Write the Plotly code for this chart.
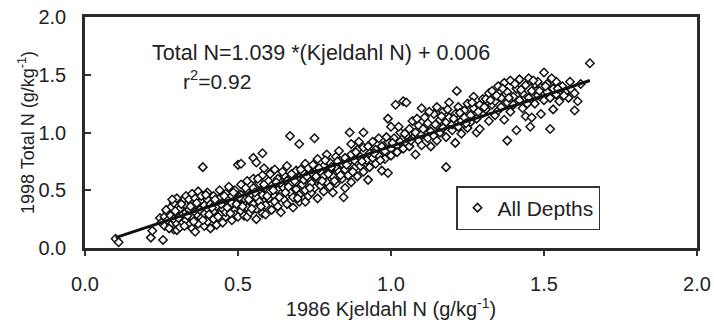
import plotly.graph_objects as go

# 1986 Kjeldahl N (g/kg-1) and 1998 Total N (g/kg-1)
kjeldahl_1986 = [
    0.10, 0.11, 0.215, 0.22, 0.255, 0.245, 0.385,
    0.25, 0.26, 0.26, 0.27, 0.27, 0.28, 0.28, 0.28, 0.29, 0.29, 0.29, 0.30, 0.30, 0.30, 0.30,
    0.31, 0.31, 0.31, 0.32, 0.32, 0.32, 0.33, 0.33, 0.33, 0.33, 0.34, 0.34, 0.34, 0.35, 0.35, 0.35, 0.35,
    0.36, 0.36, 0.36, 0.36, 0.37, 0.37, 0.37, 0.37, 0.38, 0.38, 0.38, 0.38, 0.39, 0.39, 0.39, 0.40, 0.40, 0.40, 0.40,
    0.41, 0.41, 0.41, 0.42, 0.42, 0.42, 0.43, 0.43, 0.43, 0.44, 0.44, 0.44, 0.45, 0.45, 0.45,
    0.46, 0.46, 0.46, 0.47, 0.47, 0.47, 0.48, 0.48, 0.48, 0.49, 0.49, 0.49, 0.50, 0.50, 0.50, 0.50,
    0.51, 0.51, 0.51, 0.51, 0.52, 0.52, 0.52, 0.53, 0.53, 0.53, 0.53, 0.54, 0.54, 0.54, 0.55, 0.55, 0.55, 0.55,
    0.56, 0.56, 0.56, 0.56, 0.57, 0.57, 0.57, 0.58, 0.58, 0.58, 0.58, 0.585, 0.59, 0.59, 0.59, 0.60, 0.60, 0.60,
    0.61, 0.61, 0.61, 0.62, 0.62, 0.62, 0.63, 0.63, 0.63, 0.64, 0.64, 0.64, 0.65, 0.65, 0.65,
    0.66, 0.66, 0.66, 0.67, 0.67, 0.67, 0.68, 0.68, 0.68, 0.69, 0.69, 0.69, 0.70, 0.70, 0.70, 0.70,
    0.71, 0.71, 0.72, 0.72, 0.72, 0.73, 0.73, 0.73, 0.74, 0.74, 0.74, 0.75, 0.75, 0.75,
    0.76, 0.76, 0.76, 0.77, 0.77, 0.78, 0.78, 0.78, 0.79, 0.79, 0.80, 0.80, 0.80,
    0.81, 0.81, 0.82, 0.82, 0.82, 0.83, 0.83, 0.84, 0.84, 0.845, 0.85, 0.85, 0.85,
    0.865, 0.86, 0.86, 0.87, 0.87, 0.87, 0.88, 0.88, 0.89, 0.895, 0.89, 0.90, 0.90,
    0.91, 0.91, 0.91, 0.92, 0.925, 0.93, 0.93, 0.94, 0.94, 0.95, 0.95,
    0.96, 0.96, 0.97, 0.97, 0.98, 0.98, 0.99, 0.99, 0.99, 1.00, 1.00, 1.00,
    1.015, 1.01, 1.02, 1.02, 1.03, 1.03, 1.04, 1.04, 1.05, 1.05, 1.05,
    1.06, 1.06, 1.07, 1.07, 1.08, 1.08, 1.09, 1.09, 1.10, 1.10, 1.10,
    1.11, 1.11, 1.12, 1.12, 1.13, 1.13, 1.14, 1.14, 1.15, 1.15, 1.15,
    1.16, 1.16, 1.17, 1.17, 1.18, 1.18, 1.18, 1.19, 1.19, 1.20, 1.20,
    1.21, 1.215, 1.21, 1.22, 1.22, 1.23, 1.23, 1.24, 1.24, 1.25, 1.25,
    1.26, 1.26, 1.27, 1.27, 1.28, 1.28, 1.29, 1.29, 1.30, 1.30,
    1.31, 1.31, 1.32, 1.32, 1.33, 1.33, 1.34, 1.34, 1.35, 1.35,
    1.36, 1.36, 1.37, 1.37, 1.38, 1.38, 1.38, 1.39, 1.39, 1.40, 1.40,
    1.41, 1.41, 1.42, 1.42, 1.43, 1.43, 1.44, 1.44, 1.45, 1.45,
    1.455, 1.46, 1.46, 1.47, 1.47, 1.48, 1.48, 1.49, 1.49, 1.50, 1.50,
    1.51, 1.51, 1.52, 1.52, 1.53, 1.53, 1.54, 1.54, 1.55,
    1.56, 1.57, 1.58, 1.59, 1.60, 1.60, 1.61, 1.62, 1.65,
    0.265, 0.275, 0.285, 0.295, 0.305, 0.315, 0.325, 0.335, 0.345, 0.355, 0.365, 0.375, 0.385, 0.395,
    0.405, 0.415, 0.425, 0.435, 0.445, 0.455, 0.465, 0.475, 0.485, 0.495, 0.505, 0.515, 0.525, 0.535,
    0.545, 0.555, 0.565, 0.575, 0.585, 0.595, 0.605, 0.615, 0.625, 0.635, 0.645, 0.655, 0.665, 0.675,
    0.685, 0.695, 0.705, 0.715, 0.725, 0.735, 0.745, 0.755, 0.765, 0.775, 0.785, 0.795, 0.805, 0.815,
    0.825, 0.835, 0.855, 0.875, 0.885, 0.905, 0.925, 0.945, 0.965, 0.985, 1.005, 1.025, 1.045, 1.065,
    1.085, 1.105, 1.125, 1.145, 1.165, 1.185, 1.205, 1.225, 1.245, 1.265, 1.285, 1.305, 1.325, 1.345,
    1.365, 1.385, 1.405, 1.425, 1.445, 1.465, 1.485, 1.505, 1.525, 1.545, 1.565, 1.585,
]

total_1998 = [
    0.08, 0.05, 0.09, 0.15, 0.07, 0.26, 0.70,
    0.22, 0.27, 0.19, 0.31, 0.24, 0.35, 0.28, 0.20, 0.16, 0.25, 0.39, 0.30, 0.21, 0.155, 0.43,
    0.34, 0.26, 0.18, 0.41, 0.29, 0.22, 0.37, 0.45, 0.24, 0.31, 0.20, 0.33, 0.42, 0.27, 0.38, 0.47, 0.17,
    0.14, 0.31, 0.24, 0.43, 0.36, 0.28, 0.49, 0.21, 0.40, 0.33, 0.26, 0.45, 0.19, 0.37, 0.30, 0.42, 0.34, 0.23, 0.48,
    0.28, 0.38, 0.17, 0.45, 0.32, 0.25, 0.40, 0.36, 0.20, 0.29, 0.50, 0.43, 0.22, 0.34, 0.39,
    0.47, 0.27, 0.31, 0.42, 0.36, 0.53, 0.24, 0.39, 0.45, 0.33, 0.29, 0.50, 0.41, 0.37, 0.27, 0.72,
    0.46, 0.32, 0.55, 0.73, 0.38, 0.43, 0.28, 0.49, 0.35, 0.27, 0.58, 0.41, 0.46, 0.31, 0.52, 0.38, 0.78, 0.60,
    0.25, 0.44, 0.74, 0.34, 0.49, 0.40, 0.56, 0.82, 0.30, 0.46, 0.63, 0.69, 0.29, 0.52, 0.37, 0.43, 0.58, 0.48,
    0.33, 0.54, 0.66, 0.68, 0.45, 0.40, 0.50, 0.60, 0.36, 0.56, 0.47, 0.31, 0.63, 0.42, 0.52,
    0.58, 0.38, 0.71, 0.97, 0.48, 0.55, 0.44, 0.62, 0.35, 0.67, 0.51, 0.57, 0.90, 0.46, 0.61, 0.40,
    0.55, 0.66, 0.40, 0.50, 0.73, 0.60, 0.45, 0.69, 0.56, 0.64, 0.48, 0.95, 0.70, 0.52,
    0.60, 0.43, 0.77, 0.66, 0.54, 0.71, 0.49, 0.62, 0.81, 0.57, 0.67, 0.53, 0.74,
    0.48, 0.62, 0.79, 0.70, 0.56, 0.66, 0.84, 0.60, 0.73, 0.44, 0.68, 0.52, 0.78,
    1.00, 0.63, 0.74, 0.90, 0.57, 0.81, 0.69, 0.76, 0.62, 0.92, 0.85, 0.71, 0.79,
    1.00, 0.66, 0.87, 0.76, 0.59, 0.82, 0.70, 0.92, 0.78, 0.85, 0.73,
    0.80, 0.95, 0.67, 0.88, 0.84, 0.77, 0.65, 1.12, 0.92, 1.05, 0.86, 0.80,
    1.24, 0.95, 0.89, 0.83, 1.00, 0.92, 1.27, 0.86, 0.97, 1.26, 0.91,
    1.03, 0.88, 0.95, 1.10, 0.81, 1.00, 0.93, 1.06, 1.21, 0.98, 0.89,
    1.04, 1.13, 0.95, 1.08, 0.88, 1.01, 1.16, 0.97, 1.22, 1.06, 0.93,
    1.11, 1.00, 1.18, 1.04, 0.70, 0.96, 1.09, 1.26, 1.13, 1.02, 1.07,
    0.91, 1.36, 1.16, 1.05, 1.22, 1.10, 0.99, 1.19, 1.13, 1.04, 1.25,
    1.15, 1.09, 1.31, 1.21, 1.00, 1.12, 1.03, 1.24, 1.17, 1.29,
    1.29, 1.20, 1.10, 1.34, 1.36, 1.24, 1.15, 1.27, 1.19, 1.40,
    1.30, 1.22, 1.43, 1.11, 0.93, 1.26, 1.35, 1.18, 1.45, 1.31, 1.24,
    1.02, 1.38, 1.28, 1.46, 1.21, 1.34, 1.41, 1.14, 1.30, 1.47,
    1.05, 1.13, 1.36, 1.42, 1.25, 1.32, 1.44, 1.16, 1.39, 1.52, 1.28,
    1.35, 1.42, 1.03, 1.30, 1.20, 1.38, 1.44, 1.33, 1.27,
    1.40, 1.35, 1.30, 1.37, 1.19, 1.34, 1.27, 1.42, 1.60,
    0.33, 0.17, 0.42, 0.32, 0.26, 0.38, 0.19, 0.28, 0.36, 0.23, 0.39, 0.33, 0.24, 0.46,
    0.29, 0.35, 0.42, 0.27, 0.38, 0.45, 0.35, 0.30, 0.48, 0.38, 0.44, 0.36, 0.52, 0.42,
    0.34, 0.48, 0.60, 0.36, 0.55, 0.45, 0.64, 0.50, 0.57, 0.44, 0.66, 0.48, 0.53, 0.64,
    0.58, 0.43, 0.68, 0.59, 0.62, 0.52, 0.72, 0.62, 0.69, 0.58, 0.76, 0.64, 0.70, 0.58,
    0.75, 0.63, 0.72, 0.66, 0.83, 0.75, 0.88, 0.82, 0.76, 0.96, 0.91, 1.05, 0.99, 0.93,
    1.12, 1.03, 1.18, 1.07, 1.14, 1.20, 1.12, 1.17, 1.08, 1.26, 1.18, 1.22, 1.28, 1.32,
    1.38, 1.30, 1.42, 1.37, 1.25, 1.45, 1.36, 1.40, 1.47, 1.38, 1.32, 1.44,
]

# End points of the fitted line as drawn
fit_x = [0.10, 1.65]
fit_y = [0.09, 1.45]

x_ticks = [0.0, 0.5, 1.0, 1.5, 2.0]
y_ticks = [0.0, 0.5, 1.0, 1.5, 2.0]
tick_text = ["0.0", "0.5", "1.0", "1.5", "2.0"]

FONT = "Liberation Sans, Arial, sans-serif"
INK = "#222222"

# figure fills the 714x320 window; plot area spans x 85-697, y 17-248
FW, FH = 714, 320
L, R, T, B = 85, 714 - 697, 17, 320 - 248
PW, PH = FW - L - R, FH - T - B


def px_to_paper(px, py):
    return (px - L) / PW, (FH - B - py) / PH


fig = go.Figure()
fig.add_trace(go.Scatter(
    x=kjeldahl_1986, y=total_1998, mode="markers", name="All Depths",
    marker=dict(symbol="diamond", size=6.5, color="white",
                line=dict(color="#111111", width=1.5)),
))
fig.add_trace(go.Scatter(
    x=fit_x, y=fit_y, mode="lines", showlegend=False,
    line=dict(color="#111111", width=3),
))

ax, ay = px_to_paper(150, 53)
fig.add_annotation(text="Total N=1.039 *(Kjeldahl N) + 0.006",
                   xref="paper", yref="paper", x=ax, y=ay,
                   xanchor="left", yanchor="middle", showarrow=False,
                   font=dict(family=FONT, size=21.5, color=INK))
rx, ry = px_to_paper(181, 80)
fig.add_annotation(text="r<sup>2</sup>=0.92",
                   xref="paper", yref="paper", x=rx, y=ry,
                   xanchor="left", yanchor="middle", showarrow=False,
                   font=dict(family=FONT, size=21, color=INK))

lx, ly = px_to_paper(456, 186)
fig.update_layout(
    width=FW, height=FH,
    margin=dict(l=L, r=R, t=T, b=B),
    paper_bgcolor="white", plot_bgcolor="white",
    font=dict(family=FONT, size=20, color=INK),
    showlegend=True,
    legend=dict(x=lx, y=ly, xanchor="left", yanchor="top",
                bgcolor="white", bordercolor="#333333", borderwidth=1.5,
                font=dict(family=FONT, size=21, color=INK), itemwidth=30,
                tracegroupgap=0),
    xaxis=dict(range=[0, 2.0], tickvals=x_ticks, ticktext=tick_text,
               showline=True, linecolor="#2a2a2a", linewidth=2.5, mirror=True,
               ticks="outside", ticklen=5, tickwidth=1.5, tickcolor="#333333",
               showgrid=False, zeroline=False, ticklabelstandoff=11,
               ticklabeloverflow="allow",
               title=dict(text="1986 Kjeldahl N (g/kg<sup>-1</sup>)", standoff=9,
                          font=dict(family=FONT, size=20, color=INK)),
               automargin=False),
    yaxis=dict(range=[0, 2.0], tickvals=y_ticks, ticktext=tick_text,
               showline=True, linecolor="#2a2a2a", linewidth=2.5, mirror=True,
               ticks="inside", ticklen=6, tickwidth=1.5, tickcolor="#333333",
               showgrid=False, zeroline=False, ticklabelstandoff=12,
               ticklabeloverflow="allow",
               title=dict(text="1998 Total N (g/kg<sup>-1</sup>)", standoff=0,
                          font=dict(family=FONT, size=18, color=INK)),
               automargin=False),
)

# remove the browser's default 8px page margin so the figure fills the window
fig.write_html("out.html",
               config={"displayModeBar": False},
               post_script="document.body.style.margin='0';document.body.style.overflow='hidden';")
